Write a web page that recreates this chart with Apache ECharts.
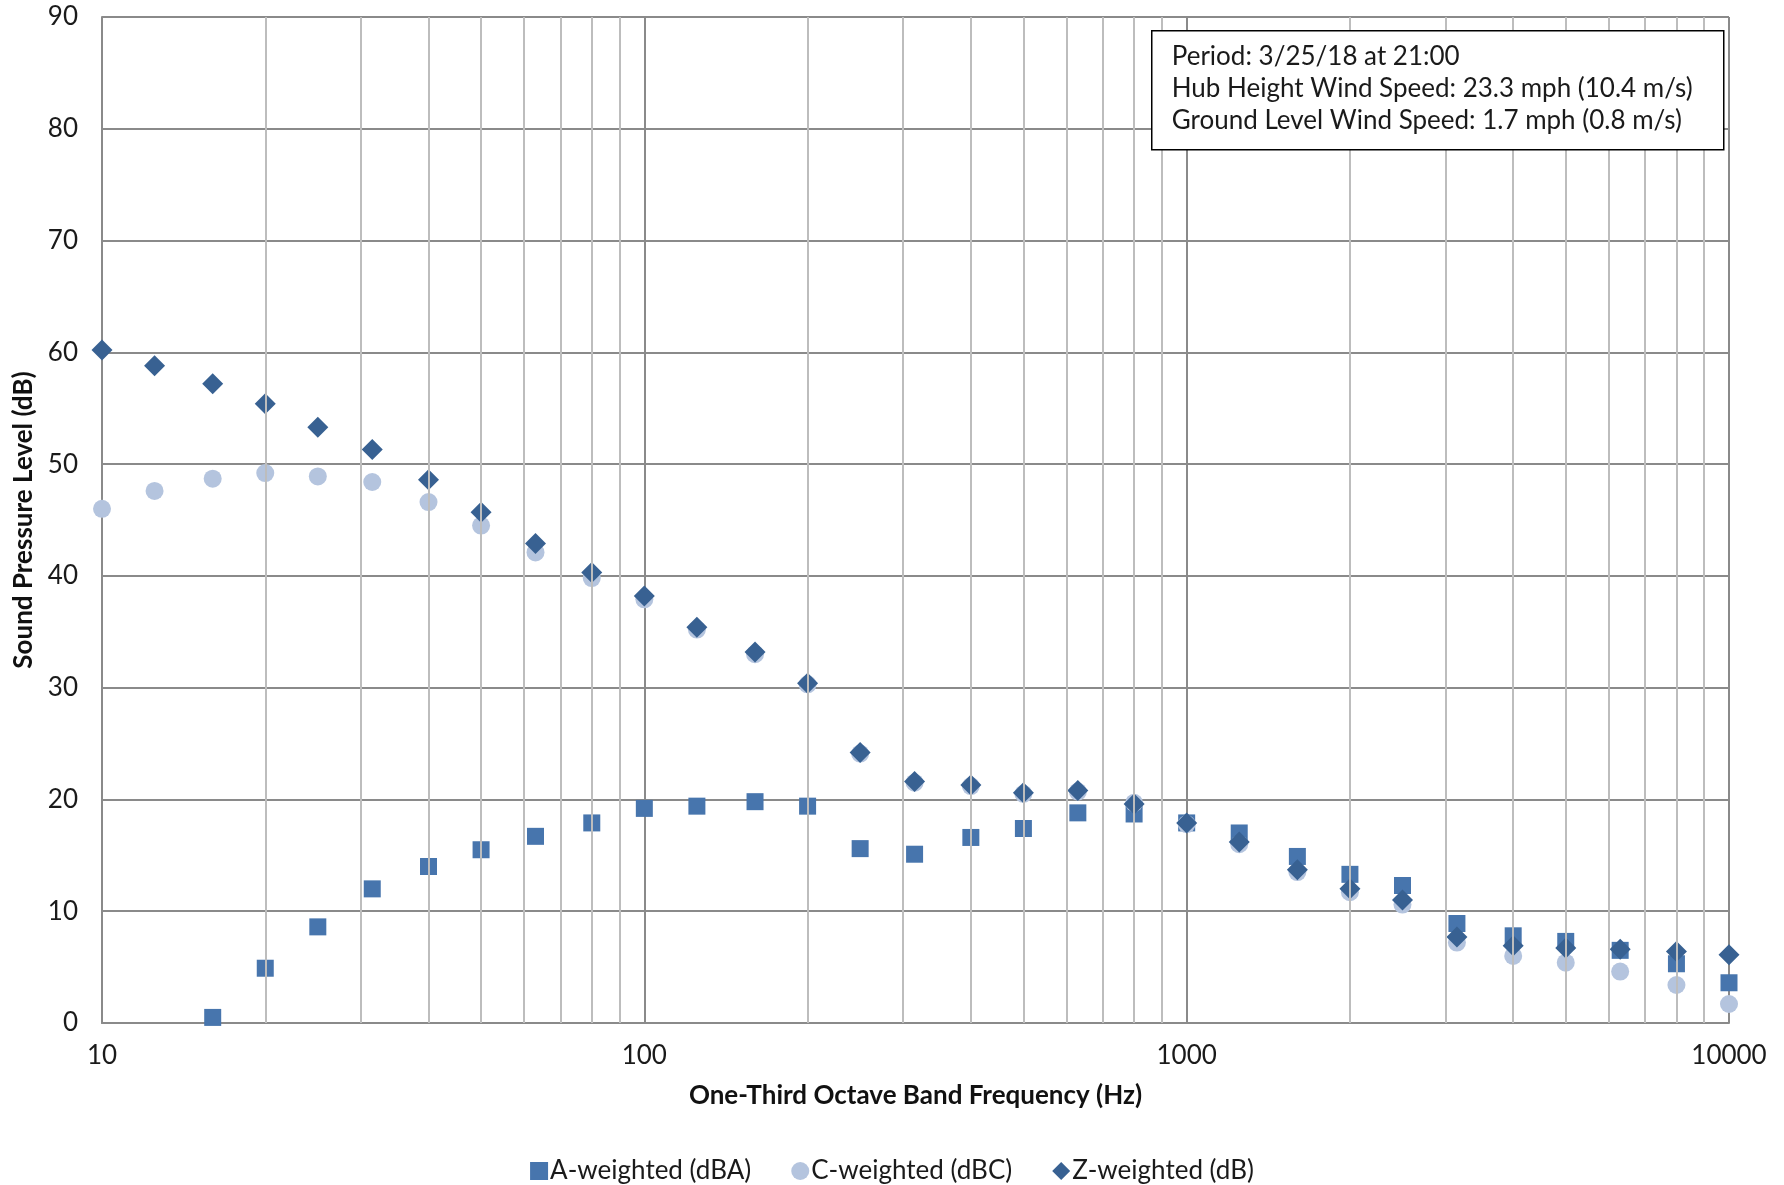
<!DOCTYPE html>
<html lang="en">
<head>
    <meta charset="UTF-8">
    <title>One-Third Octave Band Sound Levels</title>
    <script src="https://cdn.jsdelivr.net/npm/echarts@6/dist/echarts.min.js"></script>
    <style>
        body{ margin: 0; background: #fff; }
        #chart{ width: 1784px; height: 1185px; }
    </style>
</head>
<body>
<div id="chart"></div>
<script>
    // one-third octave band centre frequencies (Hz)
    var freqs = [10, 12.5, 16, 20, 25, 31.5, 40, 50, 63, 80, 100, 125, 160, 200, 250, 315, 400, 500, 630, 800,
                 1000, 1250, 1600, 2000, 2500, 3150, 4000, 5000, 6300, 8000, 10000];
    // levels (dB); A-weighted below 16 Hz is off the chart
    var aWeighted = [null, null, 0.5, 4.9, 8.6, 12.0, 14.0, 15.5, 16.7, 17.9, 19.2, 19.4, 19.8, 19.4, 15.6, 15.1, 16.6, 17.4, 18.8, 18.7,
                     17.9, 17.0, 14.9, 13.3, 12.3, 8.9, 7.8, 7.3, 6.5, 5.3, 3.6];
    var cWeighted = [46.0, 47.6, 48.7, 49.2, 48.9, 48.4, 46.6, 44.5, 42.1, 39.8, 37.9, 35.2, 33.0, 30.3, 24.1, 21.5, 21.2, 20.5, 20.7, 19.7,
                     17.8, 16.0, 13.5, 11.7, 10.6, 7.2, 6.0, 5.4, 4.6, 3.4, 1.7];
    var zWeighted = [60.2, 58.8, 57.2, 55.4, 53.3, 51.3, 48.6, 45.7, 42.9, 40.3, 38.2, 35.4, 33.2, 30.4, 24.2, 21.6, 21.3, 20.6, 20.8, 19.6,
                     17.9, 16.2, 13.7, 12.0, 11.0, 7.7, 6.9, 6.7, 6.6, 6.4, 6.1];
    // minor vertical grid positions on the log axis
    var minorGridX = [20, 30, 40, 50, 60, 70, 80, 90, 200, 300, 400, 500, 600, 700, 800, 900,
                      2000, 3000, 4000, 5000, 6000, 7000, 8000, 9000];
    var infoLines = ['Period: 3/25/18 at 21:00',
                     'Hub Height Wind Speed: 23.3 mph (10.4 m/s)',
                     'Ground Level Wind Speed: 1.7 mph (0.8 m/s)'];

    var font = 'Lato, "Open Sans", sans-serif';
    var fs = 26;

    function pairs(vals){
        var out = [];
        for (var i = 0; i < freqs.length; i++) {
            if (vals[i] !== null) out.push([freqs[i], vals[i]]);
        }
        return out;
    }

    var myChart = echarts.init(document.getElementById('chart'));
    var option = {
        animation: false,
        textStyle: { fontFamily: font },
        grid: { left: 102, right: 55, top: 17, bottom: 162 },
        graphic: [{
            type: 'group', left: 1151, top: 30, z: 100,
            children: [
                { type: 'rect', z: 100, shape: { x: 0, y: 0, width: 572, height: 119 },
                  style: { fill: '#fff', stroke: '#000', lineWidth: 1.5 } },
                { type: 'text', z: 101, x: 20, y: 10,
                  style: { text: infoLines.join('\n'), font: fs + 'px ' + font, fill: '#1a1a1a', lineHeight: 32 } }
            ]
        }],
        legend: {
            top: 1153, left: 'center',
            itemWidth: 18, itemHeight: 18, itemGap: 40,
            textStyle: { fontSize: fs, color: '#1a1a1a', fontFamily: font, padding: [0, 0, 0, -3] },
            data: [
                { name: 'A-weighted (dBA)', icon: 'rect' },
                { name: 'C-weighted (dBC)', icon: 'circle' },
                { name: 'Z-weighted (dB)', icon: 'diamond' }
            ]
        },
        xAxis: {
            type: 'log', logBase: 10, min: 10, max: 10000,
            name: 'One-Third Octave Band Frequency (Hz)',
            nameLocation: 'middle', nameGap: 60,
            nameTextStyle: { fontSize: fs, fontWeight: 'bold', color: '#111', fontFamily: font },
            axisLine: { lineStyle: { color: '#8a8a8a', width: 2 } },
            axisTick: { show: false },
            axisLabel: { fontSize: fs, color: '#1a1a1a', margin: 20, fontFamily: font,
                         formatter: function(v){ return String(v); } },
            splitLine: { show: true, lineStyle: { color: '#8a8a8a', width: 2 } }
        },
        yAxis: {
            type: 'value', min: 0, max: 90, interval: 10,
            name: 'Sound Pressure Level (dB)',
            nameLocation: 'middle', nameGap: 62, nameRotate: 90,
            nameTextStyle: { fontSize: fs, fontWeight: 'bold', color: '#111', fontFamily: font },
            axisLine: { show: true, lineStyle: { color: '#8a8a8a', width: 2 } },
            axisTick: { show: false },
            axisLabel: { fontSize: fs, color: '#1a1a1a', margin: 24, fontFamily: font },
            splitLine: { lineStyle: { color: '#8a8a8a', width: 2 } }
        },
        series: [
            {
                name: 'minor grid', type: 'line', data: [], silent: true,
                markLine: {
                    silent: true, symbol: ['none', 'none'], label: { show: false },
                    lineStyle: { color: '#bdbdbd', width: 2, type: 'solid' },
                    data: minorGridX.map(function(v){ return { xAxis: v }; })
                }
            },
            {
                name: 'A-weighted (dBA)', type: 'scatter', symbol: 'rect', symbolSize: 17,
                itemStyle: { color: '#4775ad', opacity: 1 },
                data: pairs(aWeighted), z: 3
            },
            {
                name: 'C-weighted (dBC)', type: 'scatter', symbol: 'circle', symbolSize: 18,
                itemStyle: { color: '#b4c4de', opacity: 1 },
                data: pairs(cWeighted), z: 3
            },
            {
                name: 'Z-weighted (dB)', type: 'scatter', symbol: 'diamond', symbolSize: 21,
                itemStyle: { color: '#386192', opacity: 1 },
                data: pairs(zWeighted), z: 4
            }
        ]
    };
    myChart.setOption(option);
</script>
</body>
</html>
